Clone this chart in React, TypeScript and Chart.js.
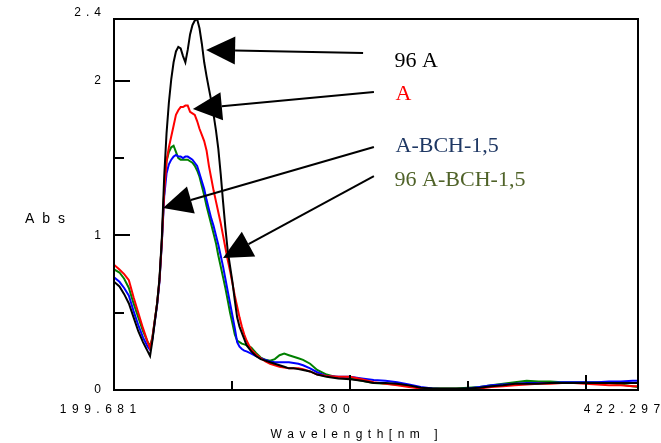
import React, { useEffect, useRef } from "react";
import { Chart, registerables } from "chart.js";

Chart.register(...registerables);

// ---- data (wavelength grid in nm, absorbance per sample) ----
const wavelength = [
  199.681, 202, 204, 206, 208, 210, 212, 214,
  215, 216, 217, 218, 219, 220, 221, 222, 223, 224, 225,
  226, 227, 228, 229, 230, 231, 232, 233, 234, 235,
  236, 237, 238, 239, 240, 241, 242, 243, 244, 245,
  246, 247, 248, 249, 250, 251, 252, 253, 254, 255, 256,
  258, 260, 262, 264, 266, 268, 270, 272, 274, 276, 278, 280, 283,
  286, 290, 295, 300, 305, 310, 315, 320, 325, 330, 335, 340, 345,
  350, 355, 360, 365, 370, 375, 380, 385, 390, 395, 400, 405, 410, 415, 420, 422.297,
];

const abs96A = [
  0.70, 0.67, 0.62, 0.56, 0.47, 0.38, 0.31, 0.25,
  0.22, 0.32, 0.44, 0.56, 0.72, 0.98, 1.38, 1.66, 1.86, 2.01, 2.12,
  2.19, 2.22, 2.21, 2.16, 2.12, 2.20, 2.30, 2.36, 2.39, 2.40,
  2.34, 2.24, 2.12, 2.03, 1.95, 1.87, 1.78, 1.68, 1.56, 1.40,
  1.22, 1.05, 0.90, 0.80, 0.70, 0.58, 0.47, 0.41, 0.37, 0.33, 0.29,
  0.25, 0.22, 0.20, 0.19, 0.18, 0.17, 0.16, 0.15, 0.14, 0.14, 0.135, 0.13, 0.12,
  0.10, 0.085, 0.075, 0.07, 0.06, 0.045, 0.045, 0.04, 0.03, 0.015, 0.01, 0.01, 0.01,
  0.01, 0.015, 0.025, 0.03, 0.04, 0.04, 0.04, 0.045, 0.045, 0.045, 0.045, 0.045, 0.045, 0.045, 0.045, 0.045,
];

const absA = [
  0.81, 0.78, 0.75, 0.71, 0.60, 0.50, 0.40, 0.31,
  0.27, 0.34, 0.45, 0.56, 0.71, 0.96, 1.28, 1.48, 1.57, 1.64, 1.71,
  1.78, 1.81, 1.83, 1.83, 1.84, 1.84, 1.80, 1.79, 1.78, 1.74,
  1.69, 1.65, 1.61, 1.55, 1.45, 1.37, 1.29, 1.22, 1.15, 1.08,
  1.00, 0.92, 0.84, 0.77, 0.69, 0.61, 0.54, 0.47, 0.41, 0.36, 0.32,
  0.26, 0.23, 0.205, 0.185, 0.17, 0.16, 0.15, 0.145, 0.14, 0.14, 0.14, 0.135, 0.12,
  0.10, 0.09, 0.085, 0.085, 0.07, 0.05, 0.04, 0.03, 0.02, 0.01, 0.005, 0.0, 0.0,
  0.005, 0.01, 0.02, 0.025, 0.03, 0.035, 0.04, 0.04, 0.045, 0.045, 0.04, 0.035, 0.03, 0.03, 0.025, 0.025,
];

const absABCH = [
  0.73, 0.70, 0.66, 0.61, 0.51, 0.42, 0.34, 0.28,
  0.26, 0.33, 0.44, 0.55, 0.70, 0.95, 1.25, 1.40, 1.46, 1.49, 1.51,
  1.52, 1.51, 1.51, 1.50, 1.51, 1.51, 1.50, 1.49, 1.47, 1.45,
  1.40, 1.35, 1.30, 1.23, 1.17, 1.11, 1.06, 1.00, 0.94, 0.87,
  0.80, 0.72, 0.64, 0.56, 0.48, 0.40, 0.31, 0.28, 0.265, 0.255, 0.25,
  0.235, 0.22, 0.205, 0.195, 0.185, 0.18, 0.18, 0.18, 0.18, 0.175, 0.17, 0.16, 0.14,
  0.115, 0.09, 0.085, 0.085, 0.075, 0.065, 0.06, 0.05, 0.035, 0.02, 0.01, 0.005, 0.005,
  0.01, 0.02, 0.03, 0.035, 0.04, 0.045, 0.045, 0.045, 0.05, 0.05, 0.05, 0.05, 0.055, 0.055, 0.06, 0.06,
];

const abs96ABCH = [
  0.78, 0.76, 0.72, 0.66, 0.56, 0.47, 0.38, 0.31,
  0.285, 0.34, 0.45, 0.56, 0.71, 0.96, 1.28, 1.48, 1.54, 1.57, 1.58,
  1.54, 1.50, 1.49, 1.49, 1.49, 1.49, 1.48, 1.47, 1.45, 1.42,
  1.38, 1.32, 1.26, 1.19, 1.13, 1.07, 1.01, 0.95, 0.87, 0.80,
  0.73, 0.66, 0.58, 0.50, 0.43, 0.36, 0.32, 0.31, 0.30, 0.295, 0.29,
  0.275, 0.24, 0.21, 0.195, 0.19, 0.20, 0.225, 0.235, 0.225, 0.215, 0.205, 0.195, 0.17,
  0.13, 0.10, 0.08, 0.075, 0.06, 0.045, 0.04, 0.035, 0.025, 0.015, 0.01, 0.01, 0.01,
  0.015, 0.02, 0.03, 0.04, 0.05, 0.06, 0.055, 0.055, 0.05, 0.05, 0.05, 0.05, 0.045, 0.035, 0.025, 0.02,
];

// ---- axes ----
const xMin = 199.681;
const xMax = 422.297;
const yMin = 0;
const yMax = 2.4;
const xTicks = [250, 300, 350, 400];
const xTickMajor = [false, true, false, true];
const xTickLabelValues = [199.681, 300, 422.297];
const xTickLabels = ["199.681", "300", "422.297"];
const yTicks = [0.5, 1, 1.5, 2];
const yTickMajor = [false, true, false, true];
const yTickLabelValues = [0, 1, 2, 2.4];
const yTickLabels = ["0", "1", "2", "2.4"];
const xTitle = "Wavelength[nm ]";
const yTitle = "Abs";

// ---- series labels / annotations ----
const seriesNames = ["96 A", "A", "A-BCH-1,5", "96 A-BCH-1,5"];
const lineColors = ["#000000", "#ff0000", "#0000ff", "#008000"];
const labelColors = ["#000000", "#ff0000", "#1f3864", "#4f6228"];
// arrow tip / tail in data units [nm, Abs]
const arrowTips = [
  [238.8, 2.2],
  [233.2, 1.818],
  [220.5, 1.177],
  [246.0, 0.854],
];
const arrowTails = [
  [305.5, 2.18],
  [310.1, 1.928],
  [310.1, 1.572],
  [310.1, 1.384],
];
// label anchor (left, baseline) in data units
const labelAnchors = [
  [318.9, 2.09],
  [319.3, 1.876],
  [319.3, 1.54],
  [318.9, 1.32],
];

function drawSpaced(ctx: CanvasRenderingContext2D, text: string, x: number, y: number, spacing: number, align: "left" | "center" | "right") {
  const chars = Array.from(text);
  const widths = chars.map((c) => ctx.measureText(c).width);
  const total = widths.reduce((a, b) => a + b, 0) + spacing * (chars.length - 1);
  let cx = align === "left" ? x : align === "center" ? x - total / 2 : x - total;
  ctx.textAlign = "left";
  chars.forEach((c, i) => {
    ctx.fillText(c, cx, y);
    cx += widths[i] + spacing;
  });
}

const decorPlugin = {
  id: "decor",
  afterDraw(chart: any) {
    const { ctx, chartArea: a } = chart;
    const xs = chart.scales.x;
    const ys = chart.scales.y;
    ctx.save();
    // frame
    ctx.strokeStyle = "#000";
    ctx.lineWidth = 2;
    ctx.strokeRect(a.left, a.top, a.right - a.left, a.bottom - a.top);
    // inward ticks
    ctx.lineWidth = 2;
    xTicks.forEach((v, i) => {
      const px = Math.round(xs.getPixelForValue(v));
      ctx.beginPath();
      ctx.moveTo(px, a.bottom);
      ctx.lineTo(px, a.bottom - (xTickMajor[i] ? 15 : 9));
      ctx.stroke();
    });
    yTicks.forEach((v, i) => {
      const py = Math.round(ys.getPixelForValue(v));
      ctx.beginPath();
      ctx.moveTo(a.left, py);
      ctx.lineTo(a.left + (yTickMajor[i] ? 16 : 10), py);
      ctx.stroke();
    });
    // tick labels
    ctx.fillStyle = "#000";
    ctx.font = '12px "Liberation Sans", Arial, sans-serif';
    ctx.textBaseline = "middle";
    xTickLabelValues.forEach((v, i) => {
      const px = xs.getPixelForValue(v);
      drawSpaced(ctx, xTickLabels[i], px - 16, a.bottom + 20, 5.5, "center");
    });
    yTickLabelValues.forEach((v, i) => {
      let py = ys.getPixelForValue(v);
      if (v === yMax) py -= 6;
      drawSpaced(ctx, yTickLabels[i], a.left - 13, py, 5, "right");
    });
    drawSpaced(ctx, xTitle, 354, a.bottom + 45, 5.5, "center");
    ctx.font = '14px "Liberation Sans", Arial, sans-serif';
    drawSpaced(ctx, yTitle, 25, 219, 8, "left");

    // arrows
    ctx.fillStyle = "#000";
    ctx.strokeStyle = "#000";
    ctx.lineWidth = 2;
    arrowTips.forEach((tip, i) => {
      const tx = xs.getPixelForValue(tip[0]);
      const ty = ys.getPixelForValue(tip[1]);
      const sx = xs.getPixelForValue(arrowTails[i][0]);
      const sy = ys.getPixelForValue(arrowTails[i][1]);
      const dx = sx - tx;
      const dy = sy - ty;
      const len = Math.hypot(dx, dy);
      const ux = dx / len;
      const uy = dy / len;
      const headLen = 29;
      const headHalf = 14;
      const bx = tx + ux * headLen;
      const by = ty + uy * headLen;
      ctx.beginPath();
      ctx.moveTo(bx, by);
      ctx.lineTo(sx, sy);
      ctx.stroke();
      ctx.beginPath();
      ctx.moveTo(tx, ty);
      ctx.lineTo(bx - uy * headHalf, by + ux * headHalf);
      ctx.lineTo(bx + uy * headHalf, by - ux * headHalf);
      ctx.closePath();
      ctx.fill();
    });
    // series labels
    ctx.font = '22px "Liberation Serif", "Times New Roman", serif';
    ctx.textBaseline = "alphabetic";
    ctx.textAlign = "left";
    seriesNames.forEach((name, i) => {
      ctx.fillStyle = labelColors[i];
      ctx.fillText(name, xs.getPixelForValue(labelAnchors[i][0]), ys.getPixelForValue(labelAnchors[i][1]));
    });
    ctx.restore();
  },
};

export default function App() {
  const canvasRef = useRef<HTMLCanvasElement | null>(null);

  useEffect(() => {
    if (!canvasRef.current) return;
    const series = [abs96A, absA, absABCH, abs96ABCH];
    const chart = new Chart(canvasRef.current, {
      type: "line",
      data: {
        datasets: series.map((vals, i) => ({
          label: seriesNames[i],
          data: wavelength.map((w, j) => ({ x: w, y: vals[j] })),
          borderColor: lineColors[i],
          backgroundColor: lineColors[i],
          borderWidth: 2,
          pointRadius: 0,
          tension: 0,
          fill: false,
        })),
      },
      options: {
        responsive: false,
        animation: false,
        devicePixelRatio: 1,
        layout: { padding: { left: 0, right: 23, top: 19, bottom: 0 } },
        plugins: { legend: { display: false }, tooltip: { enabled: false } },
        scales: {
          x: {
            type: "linear",
            min: xMin,
            max: xMax,
            ticks: { display: false },
            grid: { display: false },
            border: { display: false },
            afterFit: (s: any) => {
              s.height = 53;
            },
          },
          y: {
            type: "linear",
            min: yMin,
            max: yMax,
            ticks: { display: false },
            grid: { display: false },
            border: { display: false },
            afterFit: (s: any) => {
              s.width = 114;
            },
          },
        },
      },
      plugins: [decorPlugin],
    });
    return () => chart.destroy();
  }, []);

  return (
    <div style={{ position: "absolute", left: 0, top: 0, width: 661, height: 443, background: "#fff" }}>
      <canvas ref={canvasRef} width={661} height={443} style={{ display: "block" }} />
    </div>
  );
}
